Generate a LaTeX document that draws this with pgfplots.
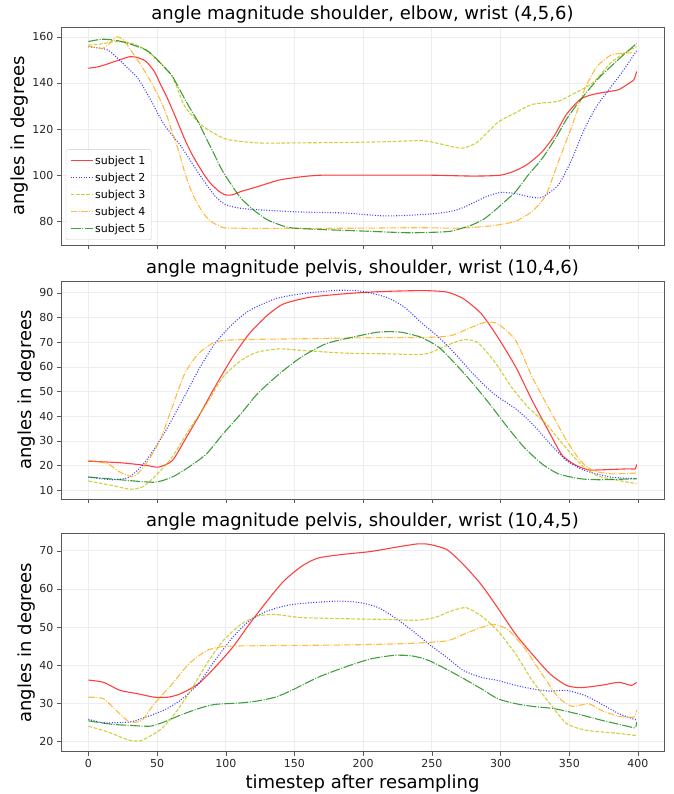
\documentclass[border=0pt]{standalone}
\usepackage{fontspec}
\setmainfont{DejaVu Sans}
\usepackage{pgfplots}
\pgfplotsset{compat=1.18}

\definecolor{mplred}{RGB}{255,0,0}
\definecolor{mplblue}{RGB}{0,0,255}
\definecolor{mplolive}{RGB}{191,191,0}
\definecolor{mplorange}{RGB}{255,165,0}
\definecolor{mplgreen}{RGB}{0,128,0}

\pgfplotsset{
  every axis title shift=0pt,
  panel/.style={
    scale only axis, width=603pt, height=218pt,
    xmin=-19.95, xmax=418.95,
    xtick={0,50,...,400},
    grid=major, grid style={black!7, line width=0.8pt},
    axis line style={black!65},
    tick align=outside, tick pos=left,
    major tick length=4pt,
    tick style={black!65, line width=0.6pt},
    ticklabel style={font=\fontsize{11}{13}\selectfont, text=black!85},
    /pgf/number format/assume math mode=true,
    ylabel={angles in degrees},
    ylabel style={font=\fontsize{18}{20}\selectfont, yshift=-3pt},
    xlabel style={font=\fontsize{18}{20}\selectfont},
    title style={font=\fontsize{18}{20}\selectfont, at={(0.5,1)}, anchor=base, yshift=7.5pt},
    every axis plot/.append style={line width=1.1pt, opacity=0.75, smooth, tension=0.4},
    legend image code/.code={\draw[#1] (0pt,0pt) -- (22pt,0pt);},
  },
  s1/.style={mplred, solid},
  s2/.style={mplblue, dash pattern=on 1pt off 1.65pt},
  s3/.style={mplolive, dash pattern=on 3.7pt off 1.6pt},
  s4/.style={mplorange, dash pattern=on 6.4pt off 1.6pt on 1pt off 1.6pt},
  s5/.style={mplgreen, dash pattern=on 10pt off 1.5pt on 1pt off 1.5pt},
}

\begin{document}
\begin{tikzpicture}

% ---- top: shoulder, elbow, wrist
\begin{axis}[panel, at={(0pt,506.7pt)}, anchor=south west,
    title={angle magnitude shoulder, elbow, wrist (4,5,6)},
    ymin=69.7, ymax=164.3, ytick={80,100,...,160},
    xticklabels={},
    legend style={at={(0.008,0.023)}, anchor=south west,
      font=\fontsize{11}{13}\selectfont, draw=black!20, rounded corners=2pt,
      fill=white, fill opacity=0.8, text opacity=1, row sep=3.2pt,
      inner sep=4pt},
    legend cell align=left]
\addplot[s1] coordinates {(0,146.4) (5,146.8) (10,147.5) (20,149.5) (30,151.4) (36,151) (42,149.3) (48,145) (52,140) (57,134) (61,128.6) (66,121.5) (70,115.7) (75,109.5) (80,104.3) (85,99.5) (89,96.4) (95,93) (100,91.4) (105,91.5) (111,92.9) (123,95) (139,97.9) (155,99.3) (170,100) (200,100) (248,100) (280,99.6) (300,100) (311,102) (320,104.9) (330,110) (339,117) (348,126.4) (358,132.9) (367,135) (380,136.4) (386,137.1) (392,139.3) (397,141.4) (399,145)};
\addplot[s2] coordinates {(0,155.7) (14,154.3) (26,148) (36,142) (45,133) (55,122) (67,112.9) (80,101) (92,91) (100,87.2) (110,85.7) (123,85) (155,84) (186,83.6) (217,82.3) (248,83.1) (264,84.3) (273,86) (289,90.5) (300,92.5) (311,92) (322,90.5) (330,90.4) (342,95.7) (352,107) (361,120) (370,130) (380,138) (390,146) (399,154)};
\addplot[s3] coordinates {(0,156.4) (10,157) (20,158) (30,157.5) (40,155) (50,150) (61,142.9) (70,130) (83,121.4) (100,115.7) (123,114) (150,114) (186,114.2) (217,114.5) (240,115) (248,114.6) (261,112.9) (272,111.7) (283,114.3) (298,122.9) (311,127.1) (323,130.7) (342,132.1) (352,135) (367,140) (380,148.6) (390,153) (399,155.7)};
\addplot[s4] coordinates {(0,156) (10,155) (15,157) (20,160) (25,159) (30,155) (39,147) (46,140) (52,133) (57,126) (61,118.6) (66,110) (70,101.4) (75,93) (80,87) (85,82.5) (89,80) (95,78) (100,77.1) (123,76.9) (150,76.9) (200,77) (240,77.2) (270,77) (290,77.8) (300,78.6) (311,80) (323,84.3) (333,91.4) (342,105.7) (352,121.4) (361,137) (370,147) (380,152) (390,153) (399,153)};
\addplot[s5] coordinates {(0,158) (10,159) (20,158.5) (30,157) (42,154.3) (48,151.4) (55,147) (61,143) (67,136.5) (73,130) (80,123) (86,115.7) (92,108.5) (98,101.4) (105,95) (111,90) (120,85) (130,80.7) (140,78.3) (148,77.1) (170,76.4) (202,75.7) (233,75) (255,75.3) (264,75.7) (272,77) (280,78.6) (288,81) (295,84.3) (303,88.5) (311,92.9) (320,100) (330,107) (340,116) (348,124.3) (356,131) (364,137) (372,142.5) (380,147) (390,152.5) (399,157.1)};
\legend{subject 1, subject 2, subject 3, subject 4, subject 5}
\end{axis}

% ---- middle: pelvis, shoulder, wrist (10,4,6)
\begin{axis}[panel, at={(0pt,252.7pt)}, anchor=south west,
    title={angle magnitude pelvis, shoulder, wrist (10,4,6)},
    ymin=6.5, ymax=94.8, ytick={10,20,...,90},
    xticklabels={}]
\addplot[s1] coordinates {(0,21.8) (23,21.2) (42,20.1) (51,19.4) (61,22) (70,30.2) (80,39.7) (92,51.8) (105,64) (117,73.4) (130,80.8) (142,85.5) (161,88.2) (186,89.6) (205,90.3) (223,90.7) (245,90.9) (261,90.3) (273,87.6) (286,81.5) (298,72) (311,60) (323,46.4) (336,32.9) (345,24.1) (355,20.1) (364,18.3) (373,18.3) (392,18.7) (398,18.7) (399,20.5)};
\addplot[s2] coordinates {(0,15.4) (17,14.3) (30,15.4) (42,22) (55,33) (67,45) (80,58.6) (92,69.4) (105,77.4) (117,82.8) (136,87.6) (155,89.6) (180,91) (198,90.7) (217,88.2) (230,84.2) (242,78.1) (255,72) (267,65.3) (280,57.2) (295,49.1) (311,43) (323,37) (336,28.9) (348,22.1) (361,18.1) (380,15.4) (399,14.7)};
\addplot[s3] coordinates {(0,13.8) (17,12) (30,10.5) (39,11.3) (48,15.4) (61,23.5) (73,34.3) (86,45) (98,55.9) (111,62.6) (123,66) (139,67.3) (155,66.7) (186,65.6) (217,65.3) (239,65) (248,65.6) (261,68.7) (273,71) (283,70) (295,62.6) (308,51.8) (320,43.7) (333,37) (345,28.9) (358,20.8) (370,16) (386,14) (399,12.7)};
\addplot[s4] coordinates {(0,22.1) (14,20.8) (23,17.4) (33,15.6) (42,20.8) (52,30.2) (61,43.7) (70,57.2) (80,65.3) (92,70) (108,71) (155,71.4) (202,71.8) (248,72) (264,72.7) (276,75.4) (289,78.1) (298,77.4) (311,70.7) (323,55.9) (336,42.4) (348,30.2) (358,22.1) (367,18.1) (380,16.7) (399,17)};
\addplot[s5] coordinates {(0,15.4) (23,14.3) (48,13.3) (61,15.4) (73,19.4) (86,24.8) (98,32.9) (111,41) (123,49.1) (139,57.2) (155,64) (173,69.4) (192,72) (211,74.1) (227,74.1) (242,72) (255,68) (267,61.3) (280,53.2) (292,45) (305,35.6) (317,27.5) (330,20.8) (342,16.7) (358,14.7) (373,14.3) (399,14.7)};
\end{axis}

% ---- bottom: pelvis, shoulder, wrist (10,4,5)
\begin{axis}[panel, at={(0pt,0pt)}, anchor=south west,
    title={angle magnitude pelvis, shoulder, wrist (10,4,5)},
    ymin=17.3, ymax=74.5, ytick={20,30,...,70},
    xlabel={timestep after resampling}]
\addplot[s1] coordinates {(0,36.1) (11,35.5) (23,33.4) (36,32.5) (48,31.6) (58,31.6) (67,32.5) (80,35.1) (92,39.4) (105,44.7) (117,50.7) (130,56.8) (142,62) (155,65.9) (167,68.1) (186,69.1) (205,69.8) (223,70.9) (239,71.8) (248,71.7) (261,70.3) (273,66.4) (286,61.1) (298,55) (311,48.1) (323,42.9) (336,37.7) (348,34.7) (358,34.1) (373,34.7) (386,35.5) (395,34.7) (399,35.5)};
\addplot[s2] coordinates {(0,25.8) (11,24.9) (30,25.1) (42,26.4) (55,28.2) (67,30.8) (80,35.1) (92,41.2) (105,47.3) (117,51.6) (130,54.2) (148,55.9) (180,56.8) (198,56.4) (211,55.1) (223,52.5) (236,49) (248,45.5) (261,42) (273,38.6) (286,36.8) (298,36) (311,34.7) (323,33.8) (336,33.2) (348,33.4) (361,32.1) (373,29.9) (386,27.3) (399,25.6)};
\addplot[s3] coordinates {(0,24) (14,22.5) (30,20.3) (39,20.3) (52,23) (61,26.4) (73,32.5) (86,40.3) (98,46.4) (111,50.7) (123,52.9) (136,53.3) (155,52.5) (186,52.2) (217,52) (239,51.8) (252,52.5) (264,54.2) (275,55.1) (286,52.9) (298,49) (311,42.9) (323,36) (336,29.9) (348,24.7) (361,23) (373,22.5) (386,22.1) (399,21.5)};
\addplot[s4] coordinates {(0,31.6) (11,31.2) (20,28.2) (30,25.1) (39,25.6) (48,29.9) (61,35.1) (73,40.3) (86,43.8) (98,44.9) (123,45.1) (186,45.3) (233,45.7) (261,46.4) (273,48.1) (286,49.9) (295,50.7) (305,49.4) (317,44.7) (330,37.7) (342,31.6) (352,29.2) (364,29.9) (373,28.2) (386,26.6) (397,26.4) (399,28.2)};
\addplot[s5] coordinates {(0,25.4) (17,24.5) (30,24.2) (45,24) (55,25.1) (67,26.9) (80,28.6) (92,29.7) (111,30.1) (123,30.6) (136,31.6) (148,33.4) (167,36.8) (186,39.4) (205,41.6) (223,42.6) (236,42.4) (248,41.2) (267,37.7) (286,33.8) (298,31.2) (311,29.9) (323,29.2) (339,28.6) (355,27.3) (373,25.6) (392,24) (398,23.6) (399,25.1)};
\end{axis}

\pgfresetboundingbox
\path[use as bounding box] (-61pt,-42.3pt) rectangle (612pt,751.7pt);
\end{tikzpicture}
\end{document}
